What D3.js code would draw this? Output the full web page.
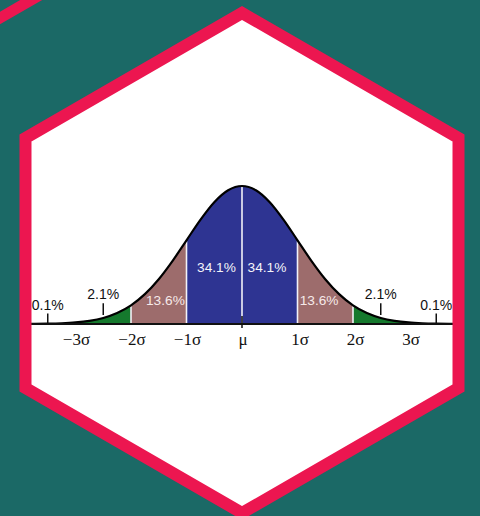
<!DOCTYPE html>
<html>
<head>
<meta charset="utf-8">
<script src="https://cdn.jsdelivr.net/npm/d3@7"></script>
<style>
  html, body { margin: 0; padding: 0; background: #1b6966; }
  svg { display: block; }
</style>
</head>
<body>
<div id="chart"></div>
<script>
let width = 480,
    height = 516;

// curve heights (relative to peak) read at quarter-sigma steps
const sigmaSteps = [-4, -3.75, -3.5, -3.25, -3, -2.75, -2.5, -2.25, -2, -1.75, -1.5, -1.25, -1, -0.75, -0.5, -0.25,
  0, 0.25, 0.5, 0.75, 1, 1.25, 1.5, 1.75, 2, 2.25, 2.5, 2.75, 3, 3.25, 3.5, 3.75, 4];
const density = [0.0003, 0.0009, 0.0022, 0.0051, 0.0111, 0.0228, 0.0439, 0.0796, 0.1353, 0.2165, 0.3247, 0.4578, 0.6065, 0.7548, 0.8825, 0.9692,
  1, 0.9692, 0.8825, 0.7548, 0.6065, 0.4578, 0.3247, 0.2165, 0.1353, 0.0796, 0.0439, 0.0228, 0.0111, 0.0051, 0.0022, 0.0009, 0.0003];

// shaded bands
const bandFrom = [-3, -2, -1, 0, 1, 2];
const bandTo   = [-2, -1, 0, 1, 2, 3];
const bandKind = ["tail", "mid", "core", "core", "mid", "tail"];
const separators = [-2, -1, 0, 1, 2];

// shares written inside the bands
const insideAt = [-1.38, -0.46, 0.45, 1.39];
const insideLabels = ["13.6%", "34.1%", "34.1%", "13.6%"];
const insideBaseY = [0.14, 0.38, 0.38, 0.14];   // label height, as fraction of peak

// shares written with pointer ticks
const pointerAt = [-3.5, -2.5, 2.5, 3.5];
const pointerLabels = ["0.1%", "2.1%", "2.1%", "0.1%"];
const pointerLevel = [0.105, 0.18, 0.18, 0.105];

const axisTicks = [-3, -2, -1, 0, 1, 2, 3];
const axisLabels = ["\u22123\u03c3", "\u22122\u03c3", "\u22121\u03c3", "\u03bc", "1\u03c3", "2\u03c3", "3\u03c3"];

const colors = { tail: "#15792d", mid: "#9d6c6c", core: "#2e3492" };

const cx = 242, cy = 263, R = 250;

let svg = d3.select("#chart")
  .append("svg")
  .attr("width", width)
  .attr("height", height);

svg.append("rect").attr("width", width).attr("height", height).attr("fill", "#1b6966");

// stripe of a neighbouring hexagon in the top-left corner
svg.append("line")
  .attr("x1", -20).attr("y1", 18 + 20 * Math.tan(Math.PI / 6))
  .attr("x2", 60).attr("y2", 18 - 60 * Math.tan(Math.PI / 6))
  .attr("stroke", "#ec1650").attr("stroke-width", 11);

let hexPts = d3.range(6).map(i => {
  let a = Math.PI / 3 * i - Math.PI / 2;
  return [cx + R * Math.cos(a), cy + R * Math.sin(a)];
});
let hexPath = "M" + hexPts.map(p => p.join(",")).join("L") + "Z";

svg.append("clipPath").attr("id", "hexclip")
  .append("path").attr("d", hexPath);

svg.append("path").attr("d", hexPath).attr("fill", "#fff");

let x = d3.scaleLinear().domain([-4, 4]).range([cx - 4 * 55.5, cx + 4 * 55.5]);
let y = d3.scaleLinear().domain([0, 1]).range([324, 186]);

let pts = sigmaSteps.map((s, i) => ({ s: s, d: density[i] }));

let g = svg.append("g").attr("clip-path", "url(#hexclip)");

let area = d3.area()
  .x(d => x(d.s))
  .y0(y(0))
  .y1(d => y(d.d))
  .curve(d3.curveMonotoneX);

bandFrom.forEach((a, i) => {
  let seg = pts.filter(p => p.s >= a && p.s <= bandTo[i]);
  g.append("path")
    .attr("d", area(seg))
    .attr("fill", colors[bandKind[i]]);
});

// white separators between bands
g.selectAll("line.sep")
  .data(separators)
  .join("line")
  .attr("class", "sep")
  .attr("x1", d => x(d)).attr("x2", d => x(d))
  .attr("y1", y(0))
  .attr("y2", d => y(density[sigmaSteps.indexOf(d)]) + 1)
  .attr("stroke", "#f2f2f8")
  .attr("stroke-width", 1.6);

let line = d3.line()
  .x(d => x(d.s))
  .y(d => y(d.d))
  .curve(d3.curveMonotoneX);

g.append("path")
  .attr("d", line(pts))
  .attr("fill", "none")
  .attr("stroke", "#000")
  .attr("stroke-width", 2.2);

// baseline
g.append("line")
  .attr("x1", 0).attr("x2", width)
  .attr("y1", y(0)).attr("y2", y(0))
  .attr("stroke", "#111")
  .attr("stroke-width", 2.2);

// mark at the mean
g.append("line")
  .attr("x1", x(0)).attr("x2", x(0))
  .attr("y1", 316).attr("y2", 328)
  .attr("stroke", "#111").attr("stroke-width", 1.5);

// labels inside bands
g.selectAll("text.inside")
  .data(insideLabels)
  .join("text")
  .attr("class", "inside")
  .attr("x", (d, i) => x(insideAt[i]))
  .attr("y", (d, i) => y(insideBaseY[i]))
  .attr("text-anchor", "middle")
  .style("font-family", "'Liberation Sans', Arial, sans-serif")
  .style("font-size", "13.7px")
  .attr("fill", (d, i) => d == "34.1%" ? "#f4f4fa" : "#f6e9e9")
  .text(d => d);

// pointer ticks and their labels
g.selectAll("line.ptr")
  .data(pointerAt)
  .join("line")
  .attr("class", "ptr")
  .attr("x1", d => x(d)).attr("x2", d => x(d))
  .attr("y1", (d, i) => y(pointerLevel[i]) + 4)
  .attr("y2", (d, i) => Math.abs(d) > 3 ? y(0) : y(0.065))
  .attr("stroke", "#111")
  .attr("stroke-width", 1.5);

g.selectAll("text.ptr")
  .data(pointerLabels)
  .join("text")
  .attr("class", "ptr")
  .attr("x", (d, i) => x(pointerAt[i]))
  .attr("y", (d, i) => y(pointerLevel[i]))
  .attr("text-anchor", "middle")
  .style("font-family", "'Liberation Sans', Arial, sans-serif")
  .style("font-size", "14px")
  .attr("fill", "#111")
  .text(d => d);

// sigma axis labels
g.selectAll("text.axis")
  .data(axisLabels)
  .join("text")
  .attr("class", "axis")
  .attr("x", (d, i) => x(axisTicks[i]) + (axisTicks[i] > 0 ? 2.5 : 1))
  .attr("y", 345)
  .attr("text-anchor", "middle")
  .style("font-family", "'Liberation Serif', 'Times New Roman', serif")
  .style("font-size", "17px")
  .attr("fill", "#111")
  .text(d => d);

// hexagon border
svg.append("path")
  .attr("d", hexPath)
  .attr("fill", "none")
  .attr("stroke", "#ec1650")
  .attr("stroke-width", 12)
  .attr("stroke-linejoin", "miter");
</script>
</body>
</html>
